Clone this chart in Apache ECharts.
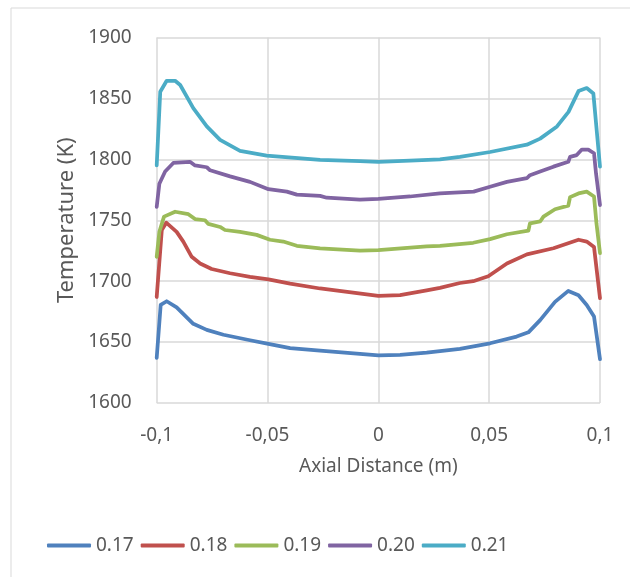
<!DOCTYPE html>
<html><head><meta charset="utf-8">
<script src="https://cdn.jsdelivr.net/npm/echarts@6/dist/echarts.min.js"></script>
<style>html,body{margin:0;padding:0;background:#fff}#c{width:630px;height:577px}</style>
</head><body><div id="c"></div>
<script>
const seriesNames = ['0.17','0.18','0.19','0.20','0.21'];
const colors = ['#4F81BD','#C0504D','#9BBB59','#8064A2','#4BACC6'];
const xTickLabels = {'-0.1':'-0,1','-0.05':'-0,05','0':'0','0.05':'0,05','0.1':'0,1'};

const x017 = [-0.1,-0.0982,-0.0955,-0.091,-0.0835,-0.0774,-0.0699,-0.0579,-0.0496,-0.0398,-0.0263,0,0.0098,0.0218,0.0368,0.0504,0.0624,0.0677,0.073,0.0797,0.0857,0.0903,0.094,0.0973,0.1];
const t017 = [1637,1680.5,1683.5,1678.5,1665,1660,1656,1651.5,1648.5,1645,1643,1639,1639.5,1641.3,1644.5,1649,1654.5,1658,1668,1683,1692,1688.5,1680.5,1671,1636];

const x018 = [-0.1,-0.0977,-0.0957,-0.091,-0.088,-0.0842,-0.0804,-0.0752,-0.0669,-0.0579,-0.0496,-0.0398,-0.0263,0,0.0098,0.0218,0.0278,0.0368,0.0428,0.0496,0.058,0.067,0.079,0.0903,0.094,0.0973,0.1];
const t018 = [1687,1742,1748,1740.5,1732.5,1720,1714.5,1710,1706.5,1703.5,1701.5,1698,1694,1688,1688.5,1692.5,1694.5,1698.5,1700,1704,1714.5,1722,1727,1734,1732.5,1728,1686];

const x019 = [-0.1,-0.0988,-0.0967,-0.0917,-0.0857,-0.0827,-0.0782,-0.0767,-0.0714,-0.0692,-0.0624,-0.0549,-0.0489,-0.0429,-0.0368,-0.0263,-0.0083,0,0.0218,0.0278,0.0428,0.0504,0.058,0.0677,0.0684,0.073,0.0745,0.0797,0.0857,0.0865,0.0903,0.094,0.0973,0.0984,0.1];
const t019 = [1720,1740.5,1753,1757,1755,1751,1750,1747,1744.5,1742,1740.5,1738,1734,1732.5,1729,1727,1725,1725.5,1728.5,1729,1731.5,1734.5,1738.5,1741.5,1747.5,1749,1753,1759,1762,1769,1772,1773.5,1769.5,1747.5,1723];

const x020 = [-0.1,-0.0988,-0.0962,-0.0925,-0.085,-0.0827,-0.0774,-0.0759,-0.0669,-0.0579,-0.0496,-0.0413,-0.0368,-0.0263,-0.0233,-0.0083,0,0.0143,0.0278,0.043,0.0504,0.058,0.067,0.0684,0.073,0.079,0.0857,0.0865,0.0895,0.0918,0.0947,0.0973,0.0982,0.1];
const t020 = [1761,1780,1790,1797,1798,1795,1793.5,1791,1786,1781.5,1775.5,1773.5,1771,1770,1768.5,1767,1767.5,1769.5,1772,1773.5,1777.5,1781.5,1784.5,1787,1790,1794,1798,1802,1803.5,1808,1808,1805,1788.5,1762.5];

const x021 = [-0.1,-0.0984,-0.0955,-0.0917,-0.0894,-0.0835,-0.0774,-0.0714,-0.0624,-0.0504,-0.0263,-0.0083,0,0.0143,0.0278,0.0368,0.0504,0.067,0.073,0.0806,0.0858,0.0903,0.094,0.097,0.1];
const t021 = [1795,1855.5,1864.5,1864.5,1861,1842,1827,1816,1807,1803,1799.5,1798.5,1798,1799,1800,1802,1806,1812,1817,1827,1839,1856,1858.5,1854,1794];

const xs = [x017,x018,x019,x020,x021];
const ts = [t017,t018,t019,t020,t021];

const font = '"Noto Sans", "Open Sans", sans-serif';
const chart = echarts.init(document.getElementById('c'), null, {renderer:'canvas'});
chart.setOption({
  animation:false,
  backgroundColor:'#fff',
  graphic:[{type:'rect',shape:{x:11,y:8,width:640,height:600},style:{fill:'none',stroke:'#d9d9d9',lineWidth:1},silent:true,z:-1}],
  grid:{left:156.7,right:30,top:37.5,bottom:174,containLabel:false},
  xAxis:{type:'value',min:-0.1,max:0.1,interval:0.05,
    name:'Axial Distance (m)',nameLocation:'middle',nameGap:54,
    nameTextStyle:{color:'#595959',fontSize:19,fontFamily:font},
    axisLine:{show:false},axisTick:{show:false},
    splitLine:{show:true,lineStyle:{color:'#d9d9d9',width:1.5}},
    axisLabel:{color:'#595959',fontSize:19,fontFamily:font,margin:23,
      formatter:v=>xTickLabels[String(Math.round(v*100)/100)] ?? String(v)}},
  yAxis:{type:'value',min:1600,max:1900,interval:50,
    name:'Temperature (K)',nameLocation:'middle',nameGap:75,
    nameTextStyle:{color:'#595959',fontSize:22,fontFamily:font},
    axisLine:{show:false},axisTick:{show:false},
    splitLine:{show:true,lineStyle:{color:'#d9d9d9',width:1.5}},
    axisLabel:{color:'#595959',fontSize:19,fontFamily:font,margin:25,formatter:v=>String(v)}},
  legend:{show:true,left:42,top:531,itemWidth:44,itemHeight:4,itemGap:7,icon:'roundRect',
    textStyle:{color:'#595959',fontSize:19,fontFamily:font},
    data:seriesNames},
  series:seriesNames.map((n,i)=>({
    name:n,type:'line',showSymbol:false,symbol:'none',smooth:false,
    data:xs[i].map((x,j)=>[x,ts[i][j]]),
    lineStyle:{color:colors[i],width:3.75,cap:'round',join:'round'},
    itemStyle:{color:colors[i]}
  }))
});
</script></body></html>
